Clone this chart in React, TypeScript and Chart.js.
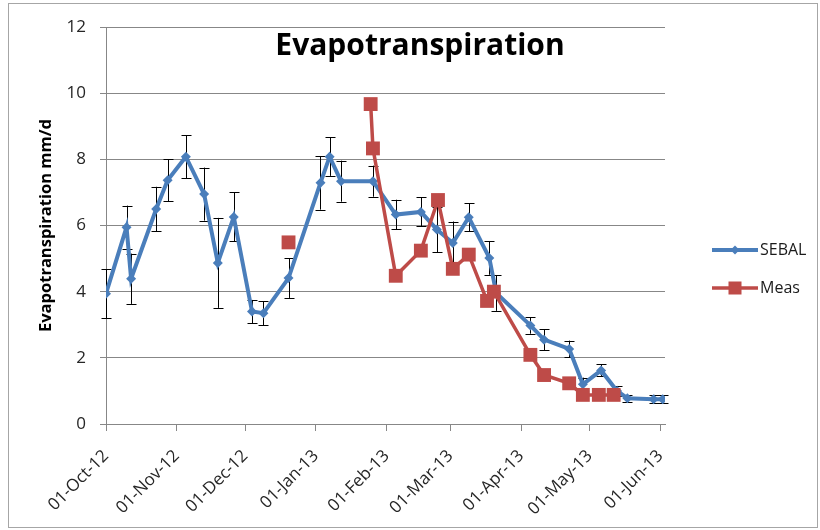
import React, { useEffect, useRef } from "react";
import { Chart, registerables } from "chart.js";

Chart.register(...registerables);

// Days counted from 01-Oct-12
const tickDays = [0, 31, 61, 92, 123, 151, 182, 212, 243];
const tickLabels = [
  "01-Oct-12",
  "01-Nov-12",
  "01-Dec-12",
  "01-Jan-13",
  "01-Feb-13",
  "01-Mar-13",
  "01-Apr-13",
  "01-May-13",
  "01-Jun-13",
];

const sebalDays = [0, 9, 11, 22, 27, 35, 43, 49, 56, 64, 69, 80, 94, 98, 103, 117, 127, 138, 145, 152, 159, 168, 171, 186, 192, 203, 209, 217, 224, 228.5, 240, 244];
const sebalValues = [3.94, 5.95, 4.39, 6.5, 7.37, 8.08, 6.95, 4.87, 6.26, 3.4, 3.35, 4.41, 7.29, 8.08, 7.34, 7.34, 6.33, 6.41, 5.88, 5.47, 6.25, 5.02, 3.96, 2.98, 2.55, 2.27, 1.2, 1.62, 1.0, 0.78, 0.75, 0.75];
const sebalErrors = [0.74, 0.65, 0.76, 0.67, 0.63, 0.65, 0.8, 1.36, 0.74, 0.35, 0.36, 0.6, 0.81, 0.58, 0.62, 0.47, 0.45, 0.44, 0.69, 0.65, 0.43, 0.51, 0.54, 0.25, 0.32, 0.25, 0.2, 0.18, 0.15, 0.1, 0.13, 0.12];

const measDays = [80, 98, 116, 117, 127, 138, 145.5, 152, 159, 167, 170, 186, 192, 203, 209, 216, 222.5];
const measValues = [5.49, null, 9.67, 8.33, 4.48, 5.24, 6.77, 4.69, 5.12, 3.72, 4.0, 2.09, 1.48, 1.23, 0.88, 0.88, 0.88];

const seriesNames = ["SEBAL", "Meas"];
const chartTitle = "Evapotranspiration";
const yTitle = "Evapotranspiration mm/d";

const BLUE = "#4a7ebb";
const RED = "#be4b48";
const GRID = "#878787";
const FONT = "'Open Sans', 'DejaVu Sans', sans-serif";

const framePlugin = {
  id: "frame",
  beforeDraw(chart: any) {
    const { ctx, width, height } = chart;
    ctx.save();
    ctx.fillStyle = "#ffffff";
    ctx.fillRect(0, 0, width, height);
    ctx.strokeStyle = "#a6a6a6";
    ctx.lineWidth = 1;
    ctx.strokeRect(8.5, 3.5, width - 11, height - 6);
    ctx.restore();
  },
};

const errorBarPlugin = {
  id: "errorBars",
  beforeDatasetsDraw(chart: any) {
    const { ctx } = chart;
    const xs = chart.scales.x;
    const ys = chart.scales.y;
    ctx.save();
    ctx.strokeStyle = "#000000";
    ctx.lineWidth = 1;
    sebalDays.forEach((d, i) => {
      const x = Math.round(xs.getPixelForValue(d)) + 0.5;
      const yt = ys.getPixelForValue(sebalValues[i] + sebalErrors[i]);
      const yb = ys.getPixelForValue(sebalValues[i] - sebalErrors[i]);
      ctx.beginPath();
      ctx.moveTo(x, yt);
      ctx.lineTo(x, yb);
      ctx.moveTo(x - 5, Math.round(yt) + 0.5);
      ctx.lineTo(x + 5, Math.round(yt) + 0.5);
      ctx.moveTo(x - 5, Math.round(yb) + 0.5);
      ctx.lineTo(x + 5, Math.round(yb) + 0.5);
      ctx.stroke();
    });
    ctx.restore();
  },
};

const titleLegendPlugin = {
  id: "titleLegend",
  afterDraw(chart: any) {
    const { ctx, width, chartArea } = chart;
    ctx.save();
    // Title
    ctx.fillStyle = "#000000";
    ctx.font = `bold 30px ${FONT}`;
    ctx.textAlign = "center";
    ctx.textBaseline = "alphabetic";
    ctx.fillText(chartTitle, width / 2 + 10, chartArea.top + 28);

    // Legend
    const lx0 = chartArea.right + 47;
    const lx1 = lx0 + 46;
    const rows = [chartArea.top + 223, chartArea.top + 261];
    ctx.font = `16px ${FONT}`;
    ctx.textAlign = "left";
    ctx.textBaseline = "middle";
    rows.forEach((y, i) => {
      const color = i === 0 ? BLUE : RED;
      ctx.strokeStyle = color;
      ctx.lineWidth = i === 0 ? 4 : 3.5;
      ctx.beginPath();
      ctx.moveTo(lx0, y);
      ctx.lineTo(lx1, y);
      ctx.stroke();
      ctx.fillStyle = color;
      const cx = (lx0 + lx1) / 2;
      if (i === 0) {
        ctx.beginPath();
        ctx.moveTo(cx, y - 4.5);
        ctx.lineTo(cx + 4.5, y);
        ctx.lineTo(cx, y + 4.5);
        ctx.lineTo(cx - 4.5, y);
        ctx.closePath();
        ctx.fill();
      } else {
        ctx.fillRect(cx - 6.5, y - 6.5, 13, 13);
      }
      ctx.fillStyle = "#1a1a1a";
      ctx.fillText(seriesNames[i], lx1 + 2, y);
    });
    ctx.restore();
  },
};

export default function App() {
  const canvasRef = useRef<HTMLCanvasElement | null>(null);

  useEffect(() => {
    if (!canvasRef.current) return;
    const chart = new Chart(canvasRef.current, {
      type: "line",
      data: {
        datasets: [
          {
            label: seriesNames[0],
            data: sebalDays.map((d, i) => ({ x: d, y: sebalValues[i] })),
            borderColor: BLUE,
            backgroundColor: BLUE,
            borderWidth: 4,
            pointStyle: "rectRot",
            pointRadius: 5,
            pointBorderWidth: 0,
            tension: 0,
            order: 1,
          },
          {
            label: seriesNames[1],
            data: measDays.map((d, i) => ({ x: d, y: measValues[i] })),
            borderColor: RED,
            backgroundColor: RED,
            borderWidth: 3.5,
            pointStyle: "rect",
            pointRadius: 9.8,
            pointBorderWidth: 0,
            spanGaps: false,
            tension: 0,
            order: 0,
          },
        ],
      },
      options: {
        responsive: false,
        animation: false,
        events: [],
        layout: { padding: { top: 27, right: 155, bottom: 0, left: 0 } },
        plugins: {
          legend: { display: false },
          tooltip: { enabled: false },
          title: { display: false },
        },
        scales: {
          x: {
            type: "linear",
            min: 0,
            max: 245,
            afterBuildTicks: (s: any) => {
              s.ticks = tickDays.map((v) => ({ value: v }));
            },
            afterFit: (s: any) => {
              s.height = 106;
            },
            ticks: {
              autoSkip: false,
              minRotation: 45,
              maxRotation: 45,
              padding: 15,
              color: "#262626",
              font: { family: FONT, size: 17 },
              callback: (v: any) => tickLabels[tickDays.indexOf(Number(v))],
            },
            grid: {
              drawOnChartArea: false,
              drawTicks: true,
              tickLength: 7,
              color: GRID,
            },
            border: { color: GRID },
          },
          y: {
            min: 0,
            max: 12,
            afterFit: (s: any) => {
              s.width = 106;
            },
            ticks: {
              stepSize: 2,
              padding: 14,
              color: "#262626",
              font: { family: FONT, size: 17 },
            },
            grid: { color: GRID, tickLength: 6 },
            border: { color: GRID },
            title: {
              display: true,
              text: yTitle,
              color: "#000000",
              font: { family: FONT, size: 16.5, weight: "bold" },
              padding: { top: 36, bottom: 0 },
            },
          },
        },
      },
      plugins: [framePlugin, errorBarPlugin, titleLegendPlugin],
    } as any);
    return () => chart.destroy();
  }, []);

  return (
    <div style={{ position: "fixed", left: 0, top: 0, width: 820, height: 530, background: "#fff" }}>
      <canvas ref={canvasRef} width={820} height={530} style={{ width: 820, height: 530, display: "block" }} />
    </div>
  );
}
